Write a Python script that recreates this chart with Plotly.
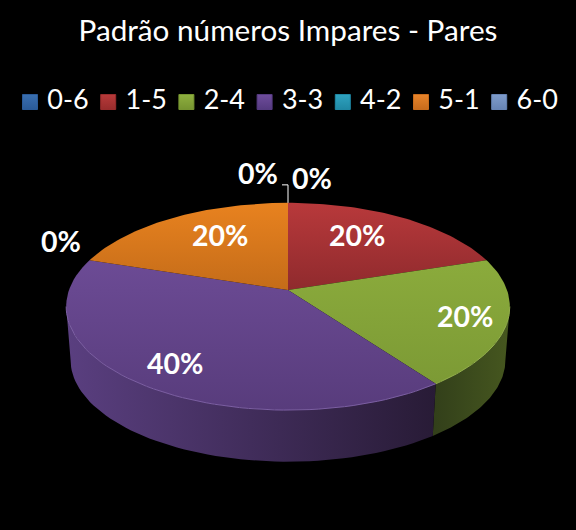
"""3D style pie of odd/even number patterns, black background."""
import math

import plotly.graph_objects as go

CATEGORIES = ['0-6', '1-5', '2-4', '3-3', '4-2', '5-1', '6-0']
VALUES = [0, 20, 20, 40, 0, 20, 0]
LABELS = ['0%', '20%', '20%', '40%', '0%', '20%', '0%']
LEGEND_COLOURS = ['#3a6fb0', '#b83a3a', '#8fb03f', '#6f4d9c', '#2fa3c0', '#e8842a', '#7f9ccb']
LEGEND_SHADES = ['#2a5a98', '#982c2c', '#769430', '#553a80', '#1f88a4', '#c86c1c', '#6784b4']
TITLE = 'Padrão números Impares - Pares'

# top face gradient, far edge to near edge
TOP_COLOURS = {
    '1-5': ('#b8393b', '#8f2a2d'),
    '2-4': ('#8bab3c', '#7c9a35'),
    '3-3': ('#6c4b95', '#583c7c'),
    '5-1': ('#e8821f', '#c46c19'),
}
# wall gradient, left to right
WALL_COLOURS = {
    '2-4': ('#323f1a', '#46571f'),
    '3-3': ('#5a3f80', '#281b36'),
}
RIM_COLOURS = {'2-4': '#93af4c', '3-3': '#7c5fa3'}

# pie geometry, in page pixels
VERTEX_X, VERTEX_Y = 288, 290
SCALE_X, SCALE_Y = 219, 101
TILT = 0.159
WALL_DROP = 54
WALL_SCALE = 0.98

# where each percent goes (page pixels)
LABEL_X = [258, 357, 465, 175, 312, 220, 61]
LABEL_Y = [173, 235, 316, 363, 178, 235, 241]

# legend row, page pixels
LEGEND_LEFT, LEGEND_STEP, LEGEND_Y = 30, 78.2, 102


def project(theta, scale=1.0, drop=0):
    """Tilted disc: clockwise angle from 12 o'clock to a page position."""
    d = 1 + TILT * math.cos(theta)
    return (VERTEX_X + scale * SCALE_X * math.sin(theta) / d,
            VERTEX_Y + drop - scale * SCALE_Y * math.cos(theta) / d)


def arc(start, stop, scale=1.0, drop=0, steps=60):
    pts = [project(start + (stop - start) * i / steps, scale, drop) for i in range(steps + 1)]
    return [p[0] for p in pts], [p[1] for p in pts]


fig = go.Figure()

# walls are only visible between the two side extremes of the ellipse
wall_from = math.acos(-TILT)
wall_to = 2 * math.pi - wall_from
total = sum(VALUES)

angle = 0
slices = []
for name, value in zip(CATEGORIES, VALUES):
    stop = angle + 2 * math.pi * value / total
    if value > 0:
        slices.append((name, angle, stop))
    angle = stop

for name, start, stop in slices:
    a, b = max(start, wall_from), min(stop, wall_to)
    if a < b and name in WALL_COLOURS:
        x1, y1 = arc(a, b)
        x2, y2 = arc(a, b, WALL_SCALE, WALL_DROP)
        left, right = WALL_COLOURS[name]
        fig.add_trace(go.Scatter(
            x=x1 + x2[::-1] + x1[:1], y=y1 + y2[::-1] + y1[:1],
            mode='lines', line={'width': 0}, fill='toself', showlegend=False, hoverinfo='skip',
            fillgradient={'type': 'horizontal', 'colorscale': [[0, left], [1, right]]},
        ))

for name, start, stop in slices:
    xs, ys = arc(start, stop)
    far, near = TOP_COLOURS[name]
    fig.add_trace(go.Scatter(
        x=[VERTEX_X] + xs + [VERTEX_X], y=[VERTEX_Y] + ys + [VERTEX_Y],
        mode='lines', line={'width': 0}, fill='toself', showlegend=False, hoverinfo='skip',
        # y axis is flipped, so the scale runs near to far
        fillgradient={'type': 'vertical', 'colorscale': [[0, near], [1, far]]},
    ))

# light edge where the top meets the wall
for name, start, stop in slices:
    a, b = max(start, wall_from), min(stop, wall_to)
    if a < b and name in RIM_COLOURS:
        xs, ys = arc(a, b)
        fig.add_trace(go.Scatter(x=xs, y=ys, mode='lines', showlegend=False, hoverinfo='skip',
                                 line={'color': RIM_COLOURS[name], 'width': 1}))

# leader line of the top 0% label
top_x, top_y = project(0)
fig.add_trace(go.Scatter(x=[top_x, top_x, top_x - 6], y=[top_y, top_y - 18, top_y - 18],
                         mode='lines', line={'color': 'white', 'width': 1},
                         showlegend=False, hoverinfo='skip'))

# legend row: plotly's own legend clips the last entry at this spacing
for i, (name, colour, shade) in enumerate(zip(CATEGORIES, LEGEND_COLOURS, LEGEND_SHADES)):
    fig.add_trace(go.Scatter(
        x=[LEGEND_LEFT + i * LEGEND_STEP], y=[LEGEND_Y], mode='markers+text', name=name,
        text=[f' {name}'], textposition='middle right', showlegend=False, hoverinfo='skip',
        textfont={'family': 'Lato', 'size': 27, 'color': 'white'},
        marker={'symbol': 'square', 'size': 15, 'color': colour,
                'gradient': {'type': 'vertical', 'color': shade},
                'line': {'color': shade, 'width': 1}},
    ))

for text, x, y in zip(LABELS, LABEL_X, LABEL_Y):
    fig.add_annotation(x=x, y=y, text=f'<b>{text}</b>', showarrow=False,
                       font={'family': 'Lato', 'size': 28.5, 'color': 'white'})

fig.update_layout(
    width=576, height=530,
    margin={'l': 0, 'r': 0, 't': 0, 'b': 0},
    showlegend=False,
    paper_bgcolor='black', plot_bgcolor='black',
    title={'text': TITLE, 'x': 0.5, 'xanchor': 'center', 'y': 0.943, 'yanchor': 'middle',
           'font': {'family': 'Lato', 'size': 29.7, 'color': 'white'}},
)
fig.update_xaxes(range=[0, 576], visible=False, fixedrange=True)
fig.update_yaxes(range=[530, 0], visible=False, fixedrange=True)

# the page has a default margin that would shift the figure
fig.write_html('out.html', config={'displayModeBar': False},
               post_script="document.body.style.margin='0';document.body.style.background='black';")
